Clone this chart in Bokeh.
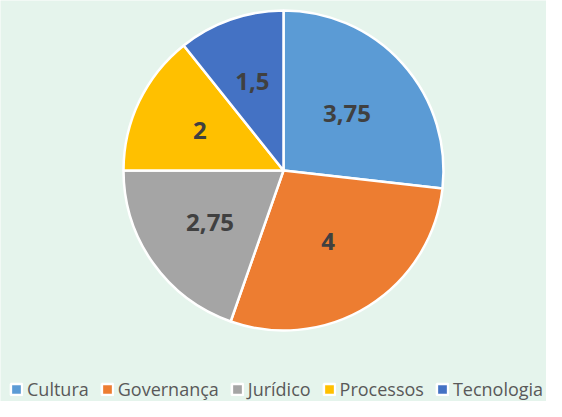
import math
from bokeh.plotting import figure
from bokeh.models import ColumnDataSource, Range1d
from bokeh.core.properties import value
from bokeh.embed import file_html
from bokeh.resources import INLINE

# ---- data ----
categories = ["Cultura", "Governança", "Jurídico", "Processos", "Tecnologia"]
values = [3.75, 4, 2.75, 2, 1.5]
colors = ["#5b9bd5", "#ed7d31", "#a5a5a5", "#ffc000", "#4472c4"]

# ---- layout / style ----
W, H = 546, 401
CX, CY, R = 283, 231, 160
BG = "#e5f4ec"

total = sum(values)
starts, ends, lx, ly, labels = [], [], [], [], []
cum = 0.0
for v in values:
    a0 = math.pi / 2 - 2 * math.pi * cum / total
    cum += v
    a1 = math.pi / 2 - 2 * math.pi * cum / total
    starts.append(a0)
    ends.append(a1)
    half = (a0 - a1) / 2
    mid = (a0 + a1) / 2
    rc = 2 * R * math.sin(half) / (3 * half) * 0.9
    lx.append(CX + rc * math.cos(mid))
    ly.append(CY + rc * math.sin(mid))
    labels.append(f"{v:g}".replace(".", ","))

src = ColumnDataSource(dict(category=categories, value=values, color=colors,
                            start=starts, end=ends, lx=lx, ly=ly, label=labels))

p = figure(width=W, height=H, x_range=Range1d(0, W), y_range=Range1d(0, H),
           output_backend="svg", toolbar_location=None,
           x_axis_location=None, y_axis_location=None, min_border=0,
           background_fill_color=BG, border_fill_color=BG, outline_line_color=None)
p.grid.visible = False

p.wedge(x=CX, y=CY, radius=R, start_angle="start", end_angle="end", direction="clock",
        fill_color="color", line_color="white", line_width=2.5, source=src,
        legend_field="category")

p.text(x="lx", y="ly", text="label", text_align="center", text_baseline="middle",
       text_font=value("Open Sans"), text_font_style="bold", text_font_size="24px",
       text_color="#404040", source=src)

leg = p.legend[0]
leg.location = (9, 0)
leg.orientation = "horizontal"
leg.glyph_width = 14
leg.glyph_height = 14
leg.label_standoff = 4
leg.spacing = 11
leg.padding = 0
leg.margin = 0
leg.label_height = 18
leg.background_fill_alpha = 0
leg.border_line_color = None
leg.label_text_font = "Open Sans"
leg.label_text_font_size = "18px"
leg.label_text_color = "#595959"

open("out.html", "w").write(file_html(p, INLINE))
